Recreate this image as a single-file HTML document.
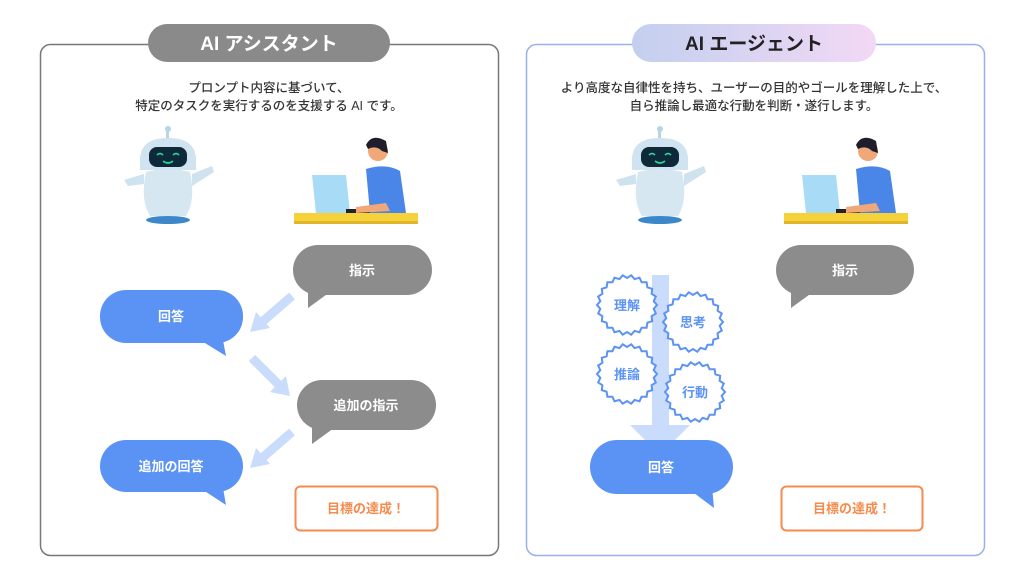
<!DOCTYPE html>
<html><head><meta charset="utf-8"><style>
html,body{margin:0;padding:0;background:#fff;width:1024px;height:576px;overflow:hidden}
svg text{font-family:"Liberation Sans","Noto Sans CJK JP",sans-serif;font-weight:bold}
</style></head><body>
<svg id="s" width="1024" height="576" viewBox="0 0 1024 576" xmlns="http://www.w3.org/2000/svg">
<defs>
<linearGradient id="g" x1="0" x2="1"><stop offset="0" stop-color="#c3cfef"/><stop offset="1" stop-color="#f2d9f5"/></linearGradient>
<g id="robot">
<rect x="-2" y="-50" width="3" height="10" fill="#b8d4e6"/>
<circle cx="0" cy="-51" r="3" fill="#b8d4e6"/>
<path d="M-28 -20 Q-28 -42 0 -42 Q28 -42 28 -20 L28 -10 L-28 -10Z" fill="#cfe3f0"/>
<rect x="-19" y="-33" width="38" height="20" rx="8" fill="#0e2a3a"/>
<path d="M-11 -25 q3 -3 6 0 M5 -25 q3 -3 6 0 M-5 -19 q5 4 10 0" stroke="#2fd29a" stroke-width="1.6" fill="none"/>
<path d="M-22 -8 Q0 -14 22 -8 Q28 20 18 36 L-18 36 Q-28 20 -22 -8Z" fill="#d7e7f2"/>
<path d="M-24 -6 L-44 0 L-40 6 L-24 4Z M24 -6 L44 -14 L46 -8 L24 6Z" fill="#cfe2ef"/>
<ellipse cx="0" cy="40" rx="22" ry="4" fill="#3b87c9"/>
</g>
<g id="person">
<rect x="-62" y="28" width="124" height="10" fill="#f5d23a"/>
<rect x="-62" y="36" width="124" height="3" fill="#e0b52a"/>
<path d="M-44 -10 L-10 -10 L-6 28 L-40 28Z" fill="#a7dbf6"/>
<rect x="-10" y="24" width="28" height="4" fill="#222"/>
<path d="M10 -16 Q30 -22 44 -14 L50 28 L14 28 Z" fill="#4a86e8"/>
<path d="M0 22 L30 18 L34 26 L0 28Z" fill="#f0a878"/>
<circle cx="22" cy="-34" r="10" fill="#f0a878"/>
<path d="M10 -40 Q16 -52 30 -44 L32 -32 L26 -34 Q20 -40 12 -36Z" fill="#1d1d2b"/>
</g>
<linearGradient id="dummy"><stop offset="0"/></linearGradient>
</defs>

<!-- left panel -->
<rect x="40.5" y="44.5" width="458" height="511" rx="10" fill="#fff" stroke="#777" stroke-width="1.5"/>
<rect x="148" y="24" width="242" height="38" rx="19" fill="#8a8a8a"/>
<text x="269" y="50" font-size="19" fill="#fff" text-anchor="middle">AI アシスタント</text>
<text x="269" y="92" font-size="12.5" fill="#333" text-anchor="middle" font-weight="normal" style="font-weight:500">プロンプト内容に基づいて、</text>
<text x="269" y="110" font-size="12.5" fill="#333" text-anchor="middle" style="font-weight:500">特定のタスクを実行するのを支援する AI です。</text>
<use href="#robot" x="168" y="180"/>
<use href="#person" x="356" y="185"/>

<!-- right panel -->
<rect x="526.5" y="44.5" width="458" height="511" rx="10" fill="#fff" stroke="#9ab0e8" stroke-width="1.5"/>
<rect x="632" y="24" width="244" height="38" rx="19" fill="url(#g)"/>
<text x="754" y="50" font-size="19" fill="#222" text-anchor="middle">AI エージェント</text>
<text x="754" y="92" font-size="12.5" fill="#333" text-anchor="middle" style="font-weight:500">より高度な自律性を持ち、ユーザーの目的やゴールを理解した上で、</text>
<text x="754" y="110" font-size="12.5" fill="#333" text-anchor="middle" style="font-weight:500">自ら推論し最適な行動を判断・遂行します。</text>
<use href="#robot" x="660" y="180"/>
<use href="#person" x="846" y="185"/>

<!-- left bubbles -->
<g font-size="13" text-anchor="middle">
<rect x="100" y="290" width="143" height="53" rx="26" fill="#5b93f5"/><path d="M200 340 L226 356 L222 335Z" fill="#5b93f5"/>
<text x="171" y="321" fill="#fff">回答</text>
<rect x="293" y="245" width="139" height="50" rx="25" fill="#8c8c8c"/><path d="M308 290 L308 308 L330 292Z" fill="#8c8c8c"/>
<text x="362" y="275" fill="#fff">指示</text>
<rect x="297" y="380" width="139" height="50" rx="25" fill="#8c8c8c"/><path d="M312 425 L312 444 L334 428Z" fill="#8c8c8c"/>
<text x="366" y="410" fill="#fff">追加の指示</text>
<rect x="100" y="440" width="143" height="52" rx="26" fill="#5b93f5"/><path d="M200 488 L226 505 L222 482Z" fill="#5b93f5"/>
<text x="171" y="471" fill="#fff">追加の回答</text>
<rect x="295.5" y="486.5" width="142" height="44" rx="5" fill="#fff" stroke="#f58b4c" stroke-width="2"/>
<text x="366" y="513" fill="#f58b4c">目標の達成！</text>
</g>
<g stroke="#cadcfb" stroke-width="9" fill="#cadcfb">
<line x1="292" y1="296" x2="262" y2="322"/><path d="M250 332 L256 312 L270 328Z" stroke="none"/>
<line x1="252" y1="358" x2="280" y2="386"/><path d="M290 396 L270 392 L286 376Z" stroke="none"/>
<line x1="292" y1="432" x2="262" y2="458"/><path d="M250 468 L256 448 L270 464Z" stroke="none"/>
</g>

<!-- right side -->
<g font-size="13" text-anchor="middle">
<rect x="776" y="245" width="138" height="50" rx="25" fill="#8c8c8c"/><path d="M791 290 L791 308 L813 292Z" fill="#8c8c8c"/>
<text x="845" y="275" fill="#fff">指示</text>
<rect x="652" y="275" width="17" height="152" fill="#cadcfb"/>
<path d="M630 425 L690 425 L660 455Z" fill="#cadcfb"/>
<rect x="590" y="440" width="143" height="54" rx="27" fill="#5b93f5"/><path d="M690 490 L714 508 L712 486Z" fill="#5b93f5"/>
<text x="661" y="472" fill="#fff">回答</text>
<rect x="781.5" y="486.5" width="141" height="44" rx="5" fill="#fff" stroke="#f58b4c" stroke-width="2"/>
<text x="852" y="513" fill="#f58b4c">目標の達成！</text>
<g id="stars" fill="#fff" stroke="#5b93f5" stroke-width="2"></g>
<text x="627" y="310" fill="#5b93f5">理解</text>
<text x="693" y="327" fill="#5b93f5">思考</text>
<text x="627" y="379" fill="#5b93f5">推論</text>
<text x="695" y="397" fill="#5b93f5">行動</text>
</g>
</svg>
<script>
var g=document.getElementById('stars');
[[627,305],[693,322],[627,374],[695,392]].forEach(function(c){
var pts=[];for(var i=0;i<44;i++){var a=i*Math.PI/22,r=i%2?27:30;pts.push((c[0]+r*Math.cos(a)).toFixed(1)+','+(c[1]+r*Math.sin(a)).toFixed(1));}
var p=document.createElementNS('http://www.w3.org/2000/svg','polygon');p.setAttribute('points',pts.join(' '));g.appendChild(p);});
</script>
</body></html>
